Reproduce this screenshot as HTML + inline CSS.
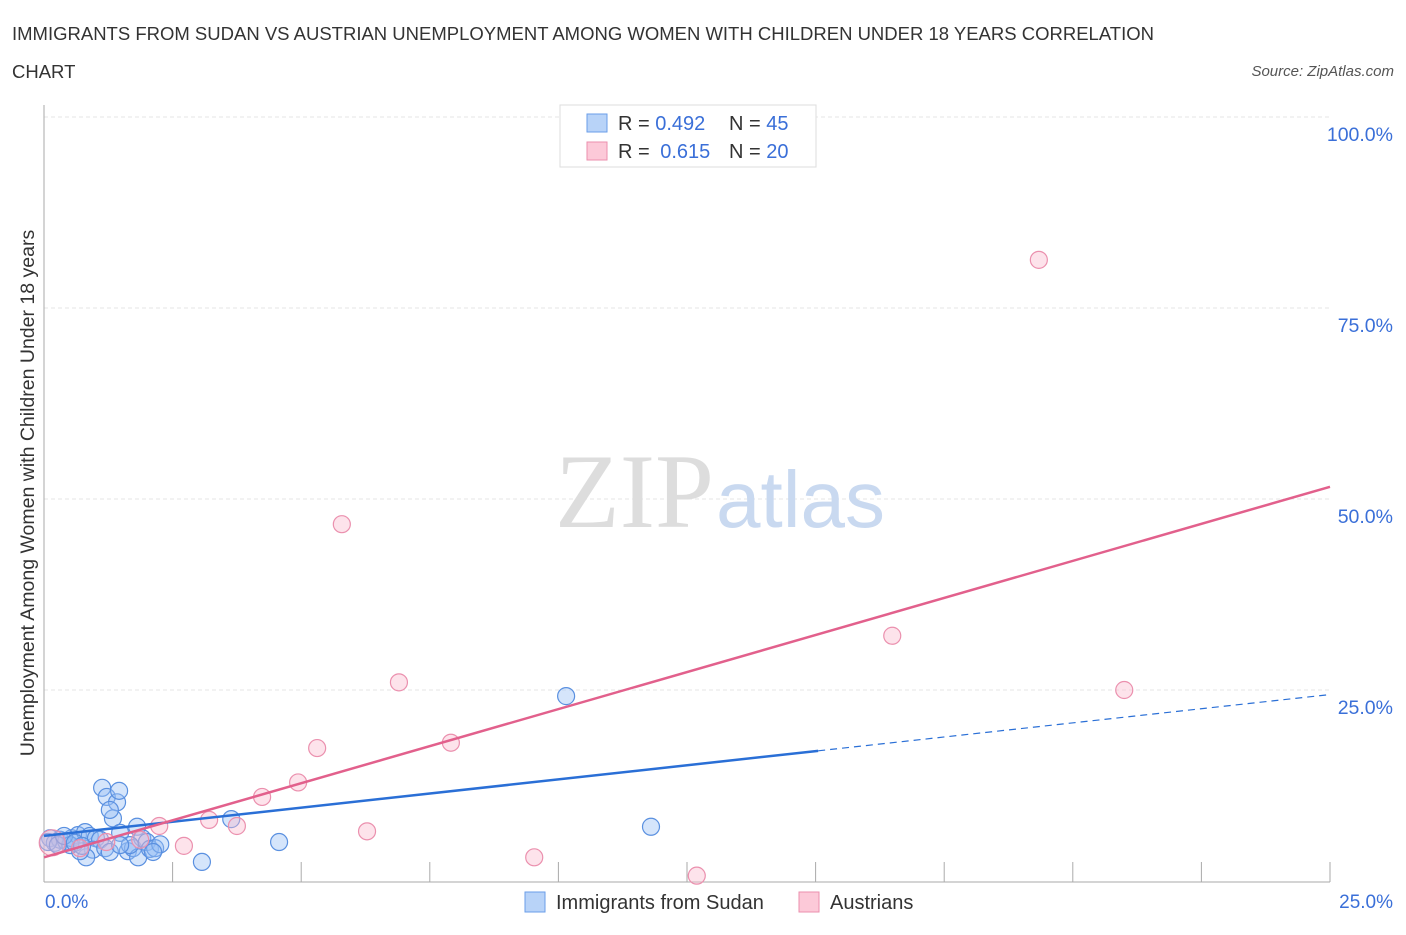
<!DOCTYPE html>
<html><head><meta charset="utf-8"><style>
body{margin:0;background:#fff;font-family:"Liberation Sans",sans-serif}
</style></head><body>
<svg width="1406" height="930" xmlns="http://www.w3.org/2000/svg" font-family="Liberation Sans, sans-serif">
<text x="12" y="40" font-size="18.5" fill="#333">IMMIGRANTS FROM SUDAN VS AUSTRIAN UNEMPLOYMENT AMONG WOMEN WITH CHILDREN UNDER 18 YEARS CORRELATION</text>
<text x="12" y="78" font-size="18.5" fill="#333">CHART</text>
<text x="1394" y="76" font-size="15" fill="#555" font-style="italic" text-anchor="end">Source: ZipAtlas.com</text>
<g id="grid"></g>
<text x="714" y="527" font-size="106" fill="#ddd" text-anchor="end" font-family="Liberation Serif, serif">ZIP</text>
<text x="716" y="527" font-size="80" fill="#c9d9f0">atlas</text>
<line x1="44" y1="105" x2="44" y2="882" stroke="#aaa"/>
<line x1="44" y1="882" x2="1330" y2="882" stroke="#aaa"/>
<g id="xticks"></g>
<g id="ylabels"></g>
<text x="45" y="908" font-size="19" fill="#3a6fd8">0.0%</text>
<text x="1393" y="908" font-size="19" fill="#3a6fd8" text-anchor="end">25.0%</text>
<text transform="translate(34,493) rotate(-90)" font-size="19.5" fill="#333" text-anchor="middle">Unemployment Among Women with Children Under 18 years</text>
<g id="pts"></g>
<g id="lines"></g>
<g>
<rect x="560" y="105" width="256" height="62" fill="#fff" stroke="#ddd"/>
<rect x="587" y="114" width="20" height="18" fill="#b8d3f8" stroke="#6a9ee8"/>
<rect x="587" y="142" width="20" height="18" fill="#fcc9d8" stroke="#eb8fae"/>
<text x="618" y="130" font-size="20" fill="#333">R = <tspan fill="#3a6fd8">0.492</tspan><tspan x="729">N = </tspan><tspan fill="#3a6fd8">45</tspan></text>
<text x="618" y="158" font-size="20" fill="#333">R = <tspan fill="#3a6fd8" dx="5">0.615</tspan><tspan x="729">N = </tspan><tspan fill="#3a6fd8">20</tspan></text>
</g>
<g>
<rect x="525" y="892" width="20" height="20" fill="#b8d3f8" stroke="#6a9ee8"/>
<text x="556" y="909" font-size="20" fill="#333">Immigrants from Sudan</text>
<rect x="799" y="892" width="20" height="20" fill="#fcc9d8" stroke="#eb8fae"/>
<text x="830" y="909" font-size="20" fill="#333">Austrians</text>
</g>
</svg>
<script>
const yTicks=[25,50,75,100];
const yTickLabels=["25.0%","50.0%","75.0%","100.0%"];
const xTicks=[0,2.5,5,7.5,10,12.5,15,17.5,20,22.5,25];
const sudanX=[1.13,1.22,1.42,1.46,1.34,1.28,0.12,0.21,0.31,0.43,0.54,0.66,0.80,0.89,1.01,1.09,0.95,0.82,0.70,0.51,1.19,1.28,1.48,1.63,1.73,1.83,1.81,1.91,2.00,2.06,2.16,2.26,1.67,3.64,3.07,4.57,10.15,11.8,0.08,0.27,0.39,0.60,0.74,1.48,2.12];
const sudanY=[12.2,11.0,10.3,11.8,8.2,9.3,5.6,5.0,5.4,5.2,5.6,6.0,6.4,5.9,5.6,5.4,4.1,3.1,3.9,4.7,4.3,3.8,6.3,3.9,4.3,3.1,7.1,5.6,5.1,4.2,4.3,4.8,4.7,8.1,2.5,5.1,24.2,7.1,5.1,4.7,5.9,5.0,4.6,4.7,3.8];
const austX=[19.34,5.79,6.90,16.49,21.0,5.31,7.91,4.94,4.24,3.21,3.75,6.28,2.24,2.72,9.53,12.69,0.16,1.21,0.70,1.87];
const austY=[81.3,46.7,26.0,32.1,25.0,17.4,18.1,12.9,11.0,8.0,7.2,6.5,7.2,4.6,3.1,0.7,5.0,5.1,4.3,5.4];
const sudanTrend=[5.9,0.74]; // intercept, slope
const austTrend=[3.1,1.94];
const sudanSolidEnd=15.05;
const NS="http://www.w3.org/2000/svg";
const X=v=>44+v/25*1286, Y=v=>881-v*7.64;
function mk(t,a,p){const e=document.createElementNS(NS,t);for(const k in a)e.setAttribute(k,a[k]);document.getElementById(p).appendChild(e);return e;}
yTicks.forEach((t,i)=>{
 const l=mk('line',{x1:44,x2:1330,y1:Y(t),y2:Y(t),stroke:'#e6e6e6','stroke-dasharray':'4,3'},'grid');
 
 
 const tx=mk('text',{x:1393,y:Y(t)+24,'font-size':19.5,fill:'#3a6fd8','text-anchor':'end'},'ylabels');
 tx.textContent=yTickLabels[i];
 
 
});
xTicks.forEach(t=>{
 const l=mk('line',{x1:X(t),x2:X(t),y1:862,y2:882,stroke:'#aaa'},'xticks');
 
 
});
sudanX.forEach((x,i)=>{
 const c=mk('circle',{cx:X(x),cy:Y(sudanY[i]),r:8.5,fill:'rgba(150,190,245,0.4)',stroke:'#5a90e0','stroke-width':1.2},'pts');
 
 
});
austX.forEach((x,i)=>{
 const c=mk('circle',{cx:X(x),cy:Y(austY[i]),r:i==16?13:8.5,fill:'rgba(250,185,205,0.4)',stroke:'#eb90ae','stroke-width':1.2},'pts');
 
 
});
const f=(t,x)=>t[0]+t[1]*x;
let l=mk('line',{x1:X(0),y1:Y(f(sudanTrend,0)),x2:X(sudanSolidEnd),y2:Y(f(sudanTrend,sudanSolidEnd)),stroke:'#2a6fd6','stroke-width':2.5},'lines');


l=mk('line',{x1:X(sudanSolidEnd),y1:Y(f(sudanTrend,sudanSolidEnd)),x2:X(25),y2:Y(f(sudanTrend,25)),stroke:'#2a6fd6','stroke-width':1.2,'stroke-dasharray':'7,5'},'lines');


l=mk('line',{x1:X(0),y1:Y(f(austTrend,0)),x2:X(25),y2:Y(f(austTrend,25)),stroke:'#e2608c','stroke-width':2.5},'lines');


</script>
</body></html>
